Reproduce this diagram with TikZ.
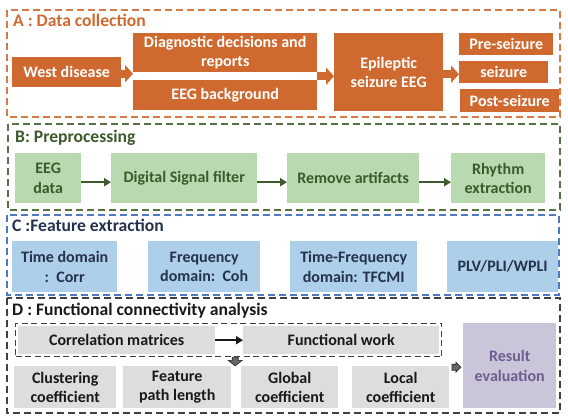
\documentclass[tikz,border=0pt]{standalone}
\usepackage{fontspec}
\setmainfont{Carlito}
\usetikzlibrary{arrows.meta,calc,fit}
\definecolor{orgA}{HTML}{D0692F}
\definecolor{orgF}{HTML}{D67B45}
\definecolor{grnF}{HTML}{5A7046}
\definecolor{grnT}{HTML}{3C5A2B}
\definecolor{grnB}{HTML}{B9DAB0}
\definecolor{bluF}{HTML}{4F7AC0}
\definecolor{bluT}{HTML}{25324D}
\definecolor{bluB}{HTML}{AECFE9}
\definecolor{gryF}{HTML}{404040}
\definecolor{gryB}{HTML}{DCDDDF}
\definecolor{lavB}{HTML}{CBC5DA}
\definecolor{lavT}{HTML}{6B5E91}
\tikzset{
  bx/.style={anchor=north west, inner sep=0pt, align=center, draw=none},
  obox/.style={bx, fill=orgA, text=white},
  gbox/.style={bx, fill=grnB, text=grnT},
  cbox/.style={bx, fill=bluB, text=bluT},
  dbox/.style={bx, fill=gryB, text=black!90},
  frame/.style={line width=1.1pt, dash pattern=on 7pt off 4pt},
  ttl/.style={anchor=west, inner sep=0pt, font=\bfseries\fontsize{17.6}{20}\selectfont},
  oarrow/.style={orgA, line width=8pt, -{Triangle[width=17pt,length=8pt]}},
  garrow/.style={grnT, line width=2.4pt, -{Triangle[width=8pt,length=7pt]}},
  karrow/.style={black!90, line width=2.2pt, -{Triangle[width=8pt,length=7pt]}},
}
\begin{document}
\begin{tikzpicture}[x=1pt,y=-1pt, font=\bfseries\fontsize{16}{19.5}\selectfont]
\useasboundingbox (0,0) rectangle (568,420);
\fill[white] (0,0) rectangle (568,420);
% ---------- frames
\draw[frame, orgF] (7,10) rectangle (560,117);
\draw[frame, grnF] (8,124) rectangle (560,210);
\draw[frame, bluF] (7,215) rectangle (559,295);
\draw[frame, gryF] (7,298) rectangle (560,413);
% ---------- A
\node[ttl, text=orgA] (tA) at (13,20) {A : Data collection};
\node[obox, minimum width=109pt, minimum height=30pt] (wd) at (12,57) {West disease};
\node[obox, minimum width=184pt, minimum height=39pt] (diag) at (133,33) {Diagnostic decisions and\\reports};
\node[obox, minimum width=184pt, minimum height=30pt] (eegbg) at (133,80) {EEG background};
\node[obox, minimum width=109pt, minimum height=78pt] (epi) at (334,33) {Epileptic\\seizure EEG};
\node[obox, minimum width=94pt, minimum height=22pt] (pre) at (459,33) {Pre-seizure};
\node[obox, minimum width=89pt, minimum height=22pt] (sz) at (459,61) {seizure};
\node[obox, minimum width=99pt, minimum height=23pt] (post) at (460,89) {Post-seizure};
\coordinate (a1) at ($(wd.east)+(0,1.5)$);
\draw[oarrow] (a1) -- (a1 -| diag.west);
\coordinate (a2) at ($(diag.south east)!0.5!(eegbg.north east)$);
\draw[oarrow] (a2) -- (a2 -| epi.west);
\coordinate (a3) at ($(epi.east)+(0,2)$);
\draw[oarrow] (a3) -- (a3 -| sz.west);
% ---------- B
\node[ttl, text=grnT] (tB) at (15,138) {B: Preprocessing};
\node[gbox, minimum width=66pt, minimum height=50pt] (eegd) at (15,153) {EEG\\data};
\node[gbox, minimum width=146pt, minimum height=50pt] (dsf) at (111,153) {Digital Signal filter};
\node[gbox, minimum width=132pt, minimum height=50pt] (rem) at (287,153) {Remove artifacts};
\node[gbox, minimum width=94pt, minimum height=50pt] (rhy) at (451,153) {Rhythm\\extraction};
\draw[garrow] ([yshift=-4pt]eegd.east) -- ([yshift=-4pt]dsf.west);
\draw[garrow] ([yshift=-4pt]dsf.east) -- ([yshift=-4pt]rem.west);
\draw[garrow] ([yshift=-4pt]rem.east) -- ([yshift=-4pt]rhy.west);
% ---------- C
\node[ttl, text=bluT] (tC) at (12,225) {C :Feature extraction};
\node[cbox, minimum width=105pt, minimum height=51pt] (td) at (12,241) {Time domain\\{:}\ \ Corr};
\node[cbox, minimum width=112pt, minimum height=51pt] (fd) at (148,241) {Frequency\\domain{:}\ \ Coh};
\node[cbox, minimum width=127pt, minimum height=51pt] (tf) at (290,241) {Time-Frequency\\domain: TFCMI};
\node[cbox, minimum width=111pt, minimum height=51pt] (plv) at (447,241) {PLV/PLI/WPLI};
% ---------- D
\node[ttl, text=black!90] (tD) at (12,311) {D : Functional connectivity analysis};
\node[dbox, minimum width=197pt, minimum height=28pt] (corr) at (18,326) {Correlation matrices};
\node[dbox, minimum width=196pt, minimum height=28pt] (func) at (243,326) {Functional work};
\node[draw=gryF, line width=1pt, dash pattern=on 6pt off 3.5pt, fit=(corr)(func), inner sep=2.5pt] (grp) {};
\draw[karrow] (corr.east) -- (func.west);
\node[dbox, minimum width=102pt, minimum height=42pt] (clu) at (14,366) {Clustering\\coefficient};
\node[dbox, minimum width=108pt, minimum height=42pt] (fpl) at (123,366) {Feature\\path length};
\node[dbox, minimum width=97pt, minimum height=42pt] (glo) at (241,366) {Global\\coefficient};
\node[dbox, minimum width=97pt, minimum height=42pt] (loc) at (352,366) {Local\\coefficient};
\node[bx, fill=lavB, text=lavT, minimum width=93pt, minimum height=85pt] (res) at (463,323) {Result\\evaluation};
% small block arrows
\coordinate (dn) at ($(grp.south)+(6.5,0)$);
\filldraw[fill=black!60, draw=black!85, line width=0.6pt]
  ($(dn)+(-3,0)$) -- ($(dn)+(3,0)$) -- ($(dn)+(3,3)$) -- ($(dn)+(7,3)$) -- ($(dn)+(0,8.5)$)
  -- ($(dn)+(-7,3)$) -- ($(dn)+(-3,3)$) -- cycle;
\coordinate (rt) at ($(res.west)+(-11,1.5)$);
\filldraw[fill=black!60, draw=black!85, line width=0.6pt]
  ($(rt)+(0,-3)$) -- ($(rt)+(4,-3)$) -- ($(rt)+(4,-5)$) -- ($(rt)+(9,0)$) -- ($(rt)+(4,5)$)
  -- ($(rt)+(4,3)$) -- ($(rt)+(0,3)$) -- cycle;
\end{tikzpicture}
\end{document}
